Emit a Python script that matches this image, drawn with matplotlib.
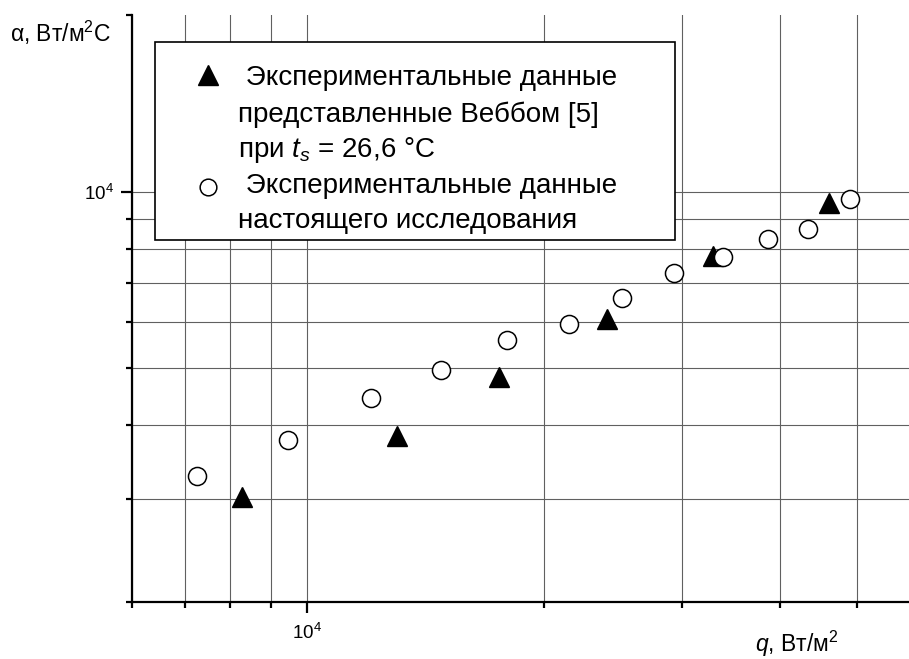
import numpy as np
import matplotlib
matplotlib.use('Agg')
import matplotlib.pyplot as plt
from matplotlib.patches import Rectangle
from matplotlib.lines import Line2D
from matplotlib.ticker import FixedLocator, NullFormatter, LogFormatterSciNotation

plt.rcParams['font.family'] = ['Liberation Sans', 'DejaVu Sans']
plt.rcParams['mathtext.fontset'] = 'custom'
plt.rcParams['mathtext.rm'] = 'Liberation Sans'
plt.rcParams['mathtext.it'] = 'Liberation Sans:italic'
plt.rcParams['mathtext.bf'] = 'Liberation Sans:bold'

# Webb data (triangles)
q_webb = [8290, 13020, 17540, 24060, 32810, 46060]
a_webb = [3020, 3830, 4830, 6070, 7770, 9580]

# this study (circles)
q_ours = [7250, 9460, 12060, 14800, 18000, 21520, 25200, 29270, 33780, 38530, 43310, 48980]
a_ours = [3280, 3780, 4460, 4960, 5580, 5950, 6590, 7270, 7740, 8310, 8650, 9730]

x_ticks = [6000, 7000, 8000, 9000, 20000, 30000, 40000, 50000]
y_ticks = [2000, 3000, 4000, 5000, 6000, 7000, 8000, 9000, 20000]
y_grid = [3000, 4000, 5000, 6000, 7000, 8000, 9000, 10000]

legend_lines = [' Экспериментальные данные',
                'представленные Веббом [5]',
                'при $t_s$ = 26,6 °C',
                ' Экспериментальные данные',
                'настоящего исследования']

W, H = 909, 659
fig = plt.figure(figsize=(W / 100, H / 100), dpi=100)

# pixel -> figure fraction helper
def px(x, y):
    return x / W, 1 - y / H

ax = fig.add_axes([132 / W, (H - 602) / H, (919 - 132) / W, (602 - 15) / H])
ax.set_xscale('log')
ax.set_yscale('log')
ax.set_xlim(6000, 60000)
ax.set_ylim(2000, 20000)

ax.xaxis.set_minor_locator(FixedLocator(x_ticks))
ax.yaxis.set_minor_locator(FixedLocator(y_ticks))
ax.xaxis.set_minor_formatter(NullFormatter())
ax.yaxis.set_minor_formatter(NullFormatter())
ax.xaxis.set_major_formatter(LogFormatterSciNotation())
ax.yaxis.set_major_formatter(LogFormatterSciNotation())

ax.grid(True, which='both', axis='x', color='#606060', lw=0.8)
for v in y_grid:
    ax.axhline(v, color='#606060', lw=0.8, zorder=0.5)
ax.set_axisbelow(True)

for s in ['top', 'right']:
    ax.spines[s].set_visible(False)
for s in ['left', 'bottom']:
    ax.spines[s].set_linewidth(1.6)

ax.tick_params(which='major', direction='out', length=8, width=1.6, labelsize=13.5, pad=7)
ax.tick_params(which='minor', direction='out', length=4.5, width=1.6)
ax.tick_params(axis='y', which='major', pad=5)

ax.plot(q_webb, a_webb, '^', color='black', ms=14.5, zorder=3, clip_on=False)
ax.plot(q_ours, a_ours, 'o', mfc='white', mec='black', mew=1.1, ms=13, zorder=3, clip_on=False)

# axis labels sit outside the usual spots
fig.text(*px(10, 42), 'α, Вт/м$^2$С', fontsize=16.5, va='baseline', ha='left')
fig.text(*px(755, 652), '$q$, Вт/м$^2$', fontsize=16.5, va='baseline', ha='left')

# legend drawn by hand so the markers sit on the first line of each entry
x0, y0 = px(155, 240)
x1, y1 = px(675, 42)
fig.add_artist(Rectangle((x0, y0), x1 - x0, y1 - y0, transform=fig.transFigure,
                         facecolor='white', edgecolor='black', lw=1.2, zorder=5))
baselines = [85, 122, 157, 193, 228]
for txt, b in zip(legend_lines, baselines):
    fig.text(*px(238, b), txt, fontsize=20, va='baseline', ha='left', zorder=6)
fig.add_artist(Line2D([px(208, 75)[0]], [px(208, 75)[1]], marker='^', color='black',
                      ms=14, ls='none', transform=fig.transFigure, zorder=6))
fig.add_artist(Line2D([px(208, 187)[0]], [px(208, 187)[1]], marker='o', mfc='white',
                      mec='black', mew=1.1, ms=12, ls='none', transform=fig.transFigure, zorder=6))

fig.savefig('out.png', dpi=100)
